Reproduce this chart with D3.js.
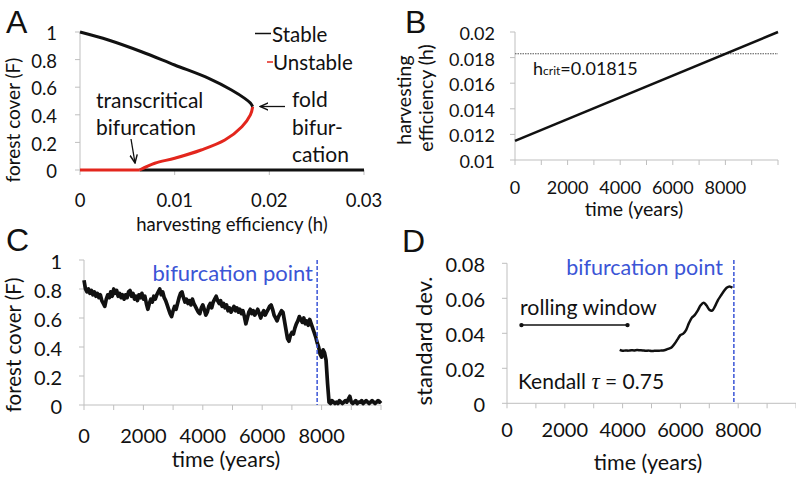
<!DOCTYPE html>
<html><head><meta charset="utf-8">
<script src="https://cdn.jsdelivr.net/npm/d3@7"></script>
<style>
html,body{margin:0;padding:0;background:#fff;}
svg{display:block;}
text{font-family:Lato,"Open Sans",sans-serif;fill:#111;}
</style></head><body>
<svg id="c" width="796" height="478"></svg>
<script>
// ================= DATA =================
// Panel A: bifurcation diagram
const aXTicks = [0, 0.01, 0.02, 0.03];
const aXTickLabels = ["0", "0.01", "0.02", "0.03"];
const aYTicks = [0, 0.2, 0.4, 0.6, 0.8, 1];
const aYTickLabels = ["0", "0.2", "0.4", "0.6", "0.8", "1"];
const stableUpperH = [0, 0.0030, 0.0065, 0.0100, 0.0136, 0.0160, 0.0174, 0.0180, 0.01824];
const stableUpperF = [1, 0.942, 0.857, 0.761, 0.664, 0.580, 0.519, 0.485, 0.459];
const unstableH = [0.01824, 0.0180, 0.0171, 0.0153, 0.0128, 0.0100, 0.0079, 0.0063];
const unstableF = [0.459, 0.399, 0.314, 0.217, 0.145, 0.085, 0.049, 0.0];
const zeroUnstableH = [0, 0.0063];
const zeroStableH = [0.0063, 0.03];
const legendLabels = ["Stable", "Unstable"];

// Panel B: harvesting ramp
const bYTicks = [0.01, 0.012, 0.014, 0.016, 0.018, 0.02];
const bYTickLabels = ["0.01", "0.012", "0.014", "0.016", "0.018", "0.02"];
const timeTicks = [0, 1000, 2000, 3000, 4000, 5000, 6000, 7000, 8000, 9000, 10000];
const timeTickLabels = [0, 2000, 4000, 6000, 8000];
const rampTime = [0, 10000];
const rampH = [0.0115, 0.0200];
const hCritLine = 0.0183;
const hCritText = "0.01815";

// Panel C: forest cover time series (every 50 years, 0..10000)
const forestStep = 50;
const forestCover = [
  0.86,0.80,0.78,0.80,0.77,0.79,0.76,0.78,0.75,0.77,
  0.74,0.76,0.72,0.70,0.68,0.73,0.76,0.74,0.78,0.75,
  0.80,0.77,0.79,0.75,0.77,0.74,0.76,0.73,0.76,0.74,
  0.78,0.79,0.75,0.77,0.73,0.75,0.72,0.76,0.74,0.77,
  0.73,0.75,0.70,0.66,0.70,0.73,0.71,0.75,0.73,0.76,
  0.78,0.80,0.76,0.78,0.74,0.72,0.69,0.66,0.63,0.61,
  0.65,0.68,0.66,0.70,0.74,0.77,0.78,0.74,0.71,0.73,
  0.70,0.72,0.69,0.73,0.70,0.68,0.66,0.64,0.63,0.67,
  0.69,0.66,0.62,0.64,0.68,0.70,0.67,0.71,0.73,0.75,
  0.72,0.70,0.72,0.68,0.70,0.67,0.69,0.65,0.67,0.64,
  0.66,0.68,0.65,0.67,0.64,0.66,0.63,0.65,0.61,0.56,
  0.60,0.64,0.66,0.63,0.65,0.62,0.64,0.66,0.63,0.60,
  0.63,0.65,0.62,0.64,0.66,0.68,0.69,0.66,0.62,0.60,
  0.58,0.61,0.63,0.65,0.64,0.58,0.52,0.46,0.44,0.48,
  0.50,0.49,0.53,0.56,0.58,0.61,0.59,0.57,0.60,0.56,
  0.58,0.55,0.59,0.56,0.53,0.50,0.47,0.43,0.40,0.35,
  0.33,0.38,0.36,0.31,0.15,0.02,0.01,0.03,0.02,0.01,
  0.02,0.01,0.03,0.02,0.01,0.02,0.03,0.02,0.04,0.06,
  0.02,0.01,0.02,0.03,0.01,0.02,0.02,0.03,0.01,0.02,
  0.03,0.02,0.01,0.02,0.03,0.02,0.01,0.02,0.03,0.02,
  0.03
];
const bifurcationTime = 7850;

// Panel D: rolling standard deviation
const dYTicks = [0, 0.02, 0.04, 0.06, 0.08];
const dYTickLabels = ["0", "0.02", "0.04", "0.06", "0.08"];
const stdTime = [3900,4000,4100,4200,4300,4400,4500,4600,4700,4800,4900,5000,5100,5200,5300,5400,5500,5600,5700,5800,5900,6000,6100,6200,6300,6400,6500,6600,6700,6800,6900,7000,7100,7200,7300,7400,7500,7600,7700,7800];
const stdValue = [0.0305,0.0300,0.0302,0.0301,0.0303,0.0302,0.0304,0.0303,0.0302,0.0300,0.0301,0.0299,0.0300,0.0300,0.0301,0.0302,0.0306,0.0312,0.0320,0.0340,0.0365,0.0390,0.0398,0.0420,0.0460,0.0490,0.0505,0.0530,0.0560,0.0575,0.0560,0.0535,0.0530,0.0555,0.0590,0.0615,0.0640,0.0660,0.0668,0.0660];
const rollingWindow = [500, 4170];
const rollingWindowY = 0.0447;

// ================= DRAW =================
const svg = d3.select("#c");
const AX = "#bfbfbf";
const BLUE = "#3b55d6";
const RED = "#e3261d";

svg.append("defs").append("marker")
  .attr("id","arr").attr("viewBox","0 0 10 10").attr("refX",9).attr("refY",5)
  .attr("markerWidth",7).attr("markerHeight",7).attr("orient","auto")
  .append("path").attr("d","M0,1 L9,5 L0,9").attr("fill","none").attr("stroke","#111").attr("stroke-width",1.6);

function axes(x, y, xTicks, yTicks) {
  const g = svg.append("g");
  const [x0, x1] = x.range(), [y0, y1] = y.range();
  g.append("line").attr("x1",x0).attr("x2",x0).attr("y1",y0).attr("y2",y1).attr("stroke",AX);
  g.append("line").attr("x1",x0).attr("x2",x1).attr("y1",y0).attr("y2",y0).attr("stroke",AX);
  yTicks.forEach(v => g.append("line").attr("x1",x0-5).attr("x2",x0).attr("y1",y(v)).attr("y2",y(v)).attr("stroke",AX));
  xTicks.forEach(v => g.append("line").attr("x1",x(v)).attr("x2",x(v)).attr("y1",y0).attr("y2",y0+5).attr("stroke",AX));
  return g;
}
function yLabels(y, ticks, labels, xRight, fs) {
  ticks.forEach((v,i) => svg.append("text").attr("x",xRight).attr("y",y(v)).attr("dy","0.44em")
    .attr("text-anchor","end").attr("font-size",fs).text(labels[i]));
}
function xLabels(x, ticks, labels, yBase, fs) {
  ticks.forEach((v,i) => svg.append("text").attr("x",x(v)).attr("y",yBase)
    .attr("text-anchor","middle").attr("font-size",fs).text(labels[i]));
}
function text(x, y, s, fs, opts={}) {
  const t = svg.append("text").attr("x",x).attr("y",y).attr("font-size",fs).text(s);
  if (opts.anchor) t.attr("text-anchor",opts.anchor);
  if (opts.fill) t.style("fill",opts.fill);
  if (opts.rot) t.attr("transform",`rotate(-90,${x},${y})`);
  if (opts.font) t.style("font-family",opts.font);
  return t;
}

// ---------- Panel A ----------
{
  const fs = 18.5;
  const x = d3.scaleLinear([0,0.03],[80,364]);
  const y = d3.scaleLinear([0,1],[170,32]);
  axes(x, y, aXTicks, aYTicks);
  yLabels(y, aYTicks, aYTickLabels, 57, fs);
  xLabels(x, aXTicks, aXTickLabels, 207, fs);
  text(232, 231, "harvesting efficiency (h)", fs, {anchor:"middle"});
  text(19.5, 120, "forest cover (F)", 19, {anchor:"middle", rot:true});
  text(6, 33, "A", 32, {font:"'Liberation Sans',Arial,sans-serif"});

  const line = d3.line().x(d => x(d[0])).y(d => y(d[1])).curve(d3.curveCatmullRom);
  svg.append("path").datum(zeroStableH.map(h => [h, 0])).attr("d", line)
    .attr("fill","none").attr("stroke","#111").attr("stroke-width",3);
  svg.append("path").datum(zeroUnstableH.map(h => [h, 0])).attr("d", line)
    .attr("fill","none").attr("stroke",RED).attr("stroke-width",3);
  svg.append("path").datum(unstableH.map((h,i) => [h, unstableF[i]])).attr("d", line)
    .attr("fill","none").attr("stroke",RED).attr("stroke-width",3);
  svg.append("path").datum(stableUpperH.map((h,i) => [h, stableUpperF[i]])).attr("d", line)
    .attr("fill","none").attr("stroke","#111").attr("stroke-width",3);

  // legend
  const lfs = 20.5;
  svg.append("line").attr("x1",255).attr("x2",271).attr("y1",33.5).attr("y2",33.5).attr("stroke","#111").attr("stroke-width",1.5);
  text(272, 41.5, legendLabels[0], lfs);
  svg.append("line").attr("x1",267).attr("x2",273).attr("y1",62).attr("y2",62).attr("stroke",RED).attr("stroke-width",1.5);
  text(273, 70, legendLabels[1], lfs);

  // annotations
  const afs = 21;
  text(96, 108, "transcritical", afs);
  text(96, 135, "bifurcation", afs);
  svg.append("line").attr("x1",131).attr("y1",139).attr("x2",135).attr("y2",163)
    .attr("stroke","#111").attr("stroke-width",1.3).attr("marker-end","url(#arr)");
  text(292, 107, "fold", afs);
  text(292, 135, "bifur-", afs);
  text(292, 162, "cation", afs);
  svg.append("line").attr("x1",285).attr("y1",106.5).attr("x2",260).attr("y2",106.5)
    .attr("stroke","#111").attr("stroke-width",1.3).attr("marker-end","url(#arr)");
}

// ---------- Panel B ----------
{
  const fs = 18;
  const x = d3.scaleLinear([0,10000],[515,778]);
  const y = d3.scaleLinear([0.01,0.02],[160,32]);
  axes(x, y, timeTicks, bYTicks);
  yLabels(y, bYTicks, bYTickLabels, 495, fs);
  xLabels(x, timeTickLabels, timeTickLabels.map(String), 194, fs);
  text(634, 216, "time (years)", 19.5, {anchor:"middle"});
  text(411, 100, "harvesting", 19.5, {anchor:"middle", rot:true});
  text(433, 98, "efficiency (h)", 19.5, {anchor:"middle", rot:true});
  text(405, 33, "B", 32, {font:"'Liberation Sans',Arial,sans-serif"});

  svg.append("line").attr("x1",x(0)).attr("x2",x(10000)).attr("y1",y(hCritLine)).attr("y2",y(hCritLine))
    .attr("stroke","#555").attr("stroke-width",1).attr("stroke-dasharray","1.5,1");
  const line = d3.line().x((d,i) => x(rampTime[i])).y(d => y(d));
  svg.append("path").datum(rampH).attr("d", line).attr("fill","none").attr("stroke","#111").attr("stroke-width",2.5);

  const t = svg.append("text").attr("x",533).attr("y",75).attr("font-size",fs);
  t.append("tspan").text("h");
  t.append("tspan").attr("font-size",12).text("crit");
  t.append("tspan").text("=" + hCritText);
}

// ---------- Panel C ----------
{
  const fs = 20;
  const x = d3.scaleLinear([0,10000],[84,381]);
  const y = d3.scaleLinear([0,1],[405,260]);
  axes(x, y, timeTicks, aYTicks);
  yLabels(y, aYTicks, aYTickLabels, 62, fs);
  xLabels(x, timeTickLabels, timeTickLabels.map(String), 443, fs);
  text(226, 467, "time (years)", 21.5, {anchor:"middle"});
  text(20.8, 345, "forest cover (F)", 20.5, {anchor:"middle", rot:true});
  text(6, 251, "C", 32, {font:"'Liberation Sans',Arial,sans-serif"});

  const line = d3.line().x((d,i) => x(i*forestStep)).y(d => y(d));
  svg.append("path").datum(forestCover).attr("d", line).attr("fill","none")
    .attr("stroke","#111").attr("stroke-width",3.7).attr("stroke-linejoin","round");
  svg.append("line").attr("x1",x(bifurcationTime)).attr("x2",x(bifurcationTime)).attr("y1",260).attr("y2",405)
    .attr("stroke",BLUE).attr("stroke-width",1.5).attr("stroke-dasharray","4,2");
  text(313, 281, "bifurcation point", 22, {anchor:"end", fill:BLUE});
}

// ---------- Panel D ----------
{
  const fs = 20;
  const x = d3.scaleLinear([0,10000],[507,796]);
  const y = d3.scaleLinear([0,0.08],[403.3,263.3]);
  axes(x, y, timeTicks, dYTicks);
  yLabels(y, dYTicks, dYTickLabels, 485, fs);
  xLabels(x, timeTickLabels, timeTickLabels.map(String), 437, fs);
  text(648, 470, "time (years)", 21.5, {anchor:"middle"});
  text(432, 341, "standard dev.", 22, {anchor:"middle", rot:true});
  text(402, 252, "D", 32, {font:"'Liberation Sans',Arial,sans-serif"});

  const line = d3.line().x((d,i) => x(stdTime[i])).y(d => y(d)).curve(d3.curveCatmullRom);
  svg.append("path").datum(stdValue).attr("d", line).attr("fill","none").attr("stroke","#111").attr("stroke-width",2.5);
  svg.append("line").attr("x1",x(bifurcationTime)).attr("x2",x(bifurcationTime)).attr("y1",260).attr("y2",403)
    .attr("stroke",BLUE).attr("stroke-width",1.5).attr("stroke-dasharray","4,2");
  text(723, 275, "bifurcation point", 21.5, {anchor:"end", fill:BLUE});

  svg.append("line").attr("x1",x(rollingWindow[0])).attr("x2",x(rollingWindow[1]))
    .attr("y1",y(rollingWindowY)).attr("y2",y(rollingWindowY)).attr("stroke","#111").attr("stroke-width",1.5);
  rollingWindow.forEach(t => svg.append("circle").attr("cx",x(t)).attr("cy",y(rollingWindowY)).attr("r",2.2).attr("fill","#111"));
  text(520, 315, "rolling window", 21.3);

  const k = svg.append("text").attr("x",518).attr("y",389).attr("font-size",21);
  k.append("tspan").text("Kendall ");
  k.append("tspan").style("font-family","'Liberation Serif','DejaVu Serif',serif").style("font-style","italic").attr("font-size",23).text("τ");
  k.append("tspan").text(" = 0.75");
}
</script>
</body></html>
